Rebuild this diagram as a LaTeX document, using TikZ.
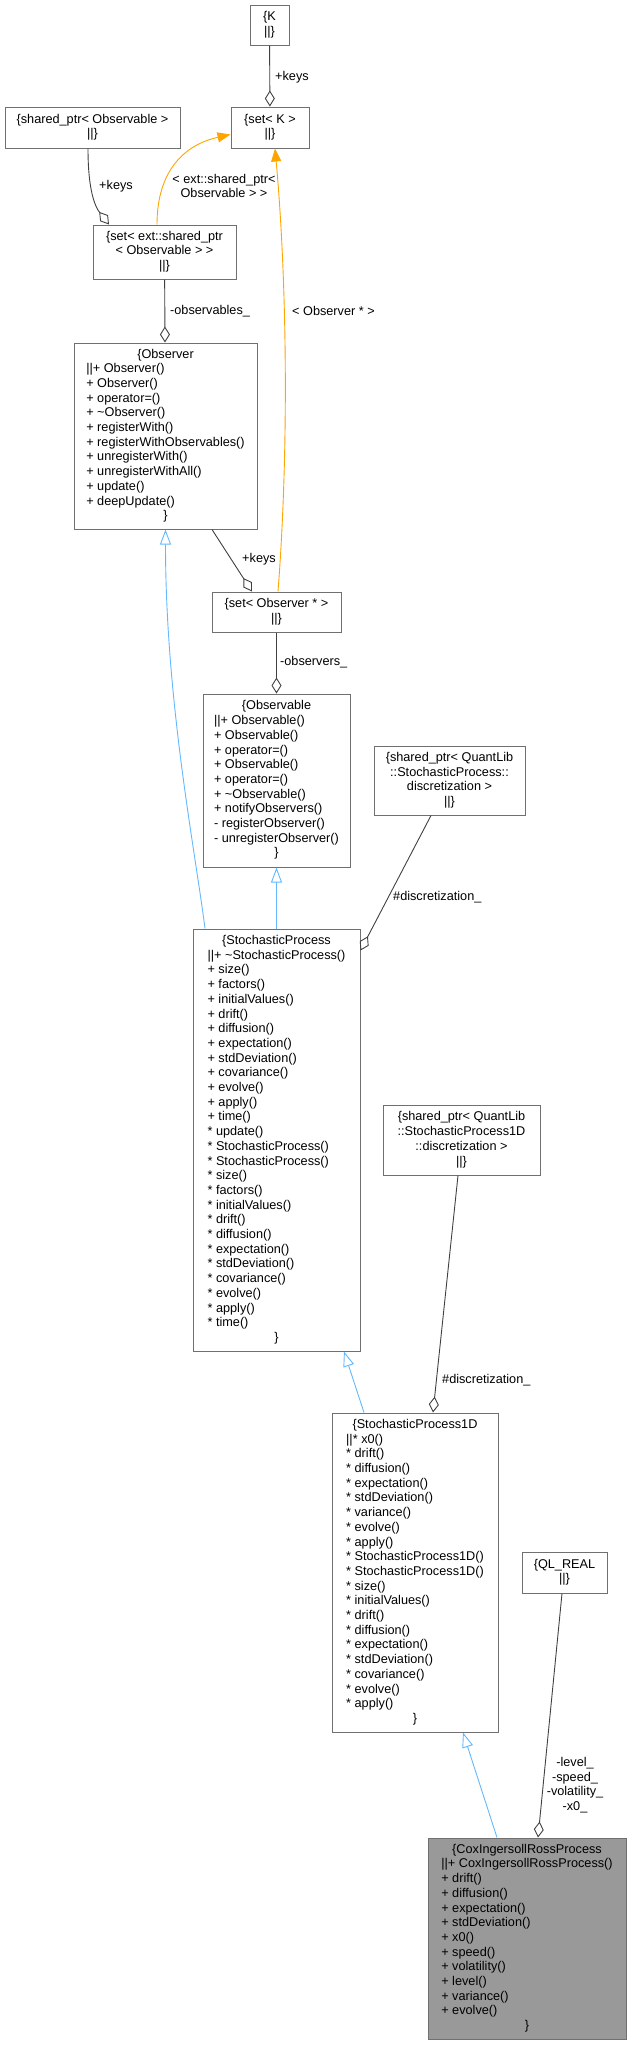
\documentclass[tikz,border=0pt]{standalone}
\usepackage{fontspec}
\setmainfont{Liberation Sans}
\usetikzlibrary{arrows.meta}
\definecolor{bordergray}{HTML}{707070}
\definecolor{edgegray}{HTML}{404040}
\definecolor{inhblue}{HTML}{63B8FF}
\definecolor{tmplorange}{HTML}{FFA500}
\definecolor{cirfill}{HTML}{999999}
\newcommand\dfont{\fontsize{12.7pt}{14.7pt}\selectfont}
\newcommand\ctr[1]{\multicolumn{1}{@{}c@{}}{#1}}
\begin{document}
\begin{tikzpicture}[x=1pt,y=-1pt,
 cls/.style={draw=bordergray, line width=1pt, fill=white, inner sep=0pt, font=\dfont},
 lbl/.style={inner sep=0pt, font=\dfont, align=center},
 assoc/.style={draw=edgegray, line width=0.9pt, -{Diamond[open,length=16pt,width=10pt]}},
 inh/.style={draw=inhblue, line width=0.9pt, -{Triangle[open,length=15pt,width=11pt]}},
 tmpl/.style={draw=tmplorange, line width=0.9pt, -{Triangle[length=13pt,width=10pt]}},
]
\useasboundingbox (0,0) rectangle (631,2045);

% ---- class nodes ----
\node[cls, minimum width=39pt, minimum height=40pt] (K) at (269.5,25)
 {\begin{tabular}{@{}c@{}}\{K\\||\}\end{tabular}};
\node[cls, minimum width=78pt, minimum height=41pt] (setK) at (270,127.5)
 {\begin{tabular}{@{}c@{}}\{set< K >\\||\}\end{tabular}};
\node[cls, minimum width=175pt, minimum height=41pt] (spObs) at (92.5,127.5)
 {\begin{tabular}{@{}c@{}}\{shared\_ptr< Observable >\\||\}\end{tabular}};
\node[cls, minimum width=143pt, minimum height=54pt] (setExt) at (164.5,252)
 {\begin{tabular}{@{}c@{}}\{set< ext::shared\_ptr\\< Observable > >\\||\}\end{tabular}};
\node[cls, minimum width=183pt, minimum height=186pt] (Observer) at (165.5,436)
 {\begin{tabular}{@{}l@{}}\ctr{\{Observer}\\
 ||+ Observer()\\
 + Observer()\\
 + operator=()\\
 + \textasciitilde Observer()\\
 + registerWith()\\
 + registerWithObservables()\\
 + unregisterWith()\\
 + unregisterWithAll()\\
 + update()\\
 + deepUpdate()\\
 \ctr{\}}\end{tabular}};
\node[cls, minimum width=129pt, minimum height=40pt] (setObsPtr) at (276.5,612)
 {\begin{tabular}{@{}c@{}}\{set< Observer {*} >\\||\}\end{tabular}};
\node[cls, minimum width=147pt, minimum height=173pt] (Observable) at (276.5,780.5)
 {\begin{tabular}{@{}l@{}}\ctr{\{Observable}\\
 ||+ Observable()\\
 + Observable()\\
 + operator=()\\
 + Observable()\\
 + operator=()\\
 + \textasciitilde Observable()\\
 + notifyObservers()\\
 - registerObserver()\\
 - unregisterObserver()\\
 \ctr{\}}\end{tabular}};
\node[cls, minimum width=151pt, minimum height=69pt] (spSPdisc) at (449.5,780.5)
 {\begin{tabular}{@{}c@{}}\{shared\_ptr< QuantLib\\::StochasticProcess::\\discretization >\\||\}\end{tabular}};
\node[cls, minimum width=167pt, minimum height=422pt] (SP) at (276.5,1140)
 {\begin{tabular}{@{}l@{}}\ctr{\{StochasticProcess}\\
 ||+ \textasciitilde StochasticProcess()\\
 + size()\\
 + factors()\\
 + initialValues()\\
 + drift()\\
 + diffusion()\\
 + expectation()\\
 + stdDeviation()\\
 + covariance()\\
 + evolve()\\
 + apply()\\
 + time()\\
 {*} update()\\
 {*} StochasticProcess()\\
 {*} StochasticProcess()\\
 {*} size()\\
 {*} factors()\\
 {*} initialValues()\\
 {*} drift()\\
 {*} diffusion()\\
 {*} expectation()\\
 {*} stdDeviation()\\
 {*} covariance()\\
 {*} evolve()\\
 {*} apply()\\
 {*} time()\\
 \ctr{\}}\end{tabular}};
\node[cls, minimum width=157pt, minimum height=70pt] (spSP1Ddisc) at (461.5,1140)
 {\begin{tabular}{@{}c@{}}\{shared\_ptr< QuantLib\\::StochasticProcess1D\\::discretization >\\||\}\end{tabular}};
\node[cls, minimum width=166pt, minimum height=319pt] (SP1D) at (415,1572.5)
 {\begin{tabular}{@{}l@{}}\ctr{\{StochasticProcess1D}\\
 ||{*} x0()\\
 {*} drift()\\
 {*} diffusion()\\
 {*} expectation()\\
 {*} stdDeviation()\\
 {*} variance()\\
 {*} evolve()\\
 {*} apply()\\
 {*} StochasticProcess1D()\\
 {*} StochasticProcess1D()\\
 {*} size()\\
 {*} initialValues()\\
 {*} drift()\\
 {*} diffusion()\\
 {*} expectation()\\
 {*} stdDeviation()\\
 {*} covariance()\\
 {*} evolve()\\
 {*} apply()\\
 \ctr{\}}\end{tabular}};
\node[cls, minimum width=85pt, minimum height=41pt] (QLREAL) at (564.5,1572.5)
 {\begin{tabular}{@{}c@{}}\{QL\_REAL\\||\}\end{tabular}};
\node[cls, fill=cirfill, minimum width=198pt, minimum height=201pt] (CIR) at (527,1938.5)
 {\begin{tabular}{@{}l@{}}\ctr{\{CoxIngersollRossProcess}\\
 ||+ CoxIngersollRossProcess()\\
 + drift()\\
 + diffusion()\\
 + expectation()\\
 + stdDeviation()\\
 + x0()\\
 + speed()\\
 + volatility()\\
 + level()\\
 + variance()\\
 + evolve()\\
 \ctr{\}}\end{tabular}};

% ---- connectors ----
\draw[assoc] (K) -- (setK);
\draw[assoc] ([xshift=-4.5pt]spObs.south) .. controls +(0,42) and +(-14,-18) .. ([xshift=-55.5pt]setExt.north);
\draw[tmpl] ([xshift=-7.5pt]setExt.north) .. controls +(0,-55) and +(-45,10) .. ([yshift=-7pt]setK.west);
\draw[tmpl] ([xshift=1.5pt]setObsPtr.north) .. controls +(11,-142) and +(12,132) .. ([xshift=5pt]setK.south);
\draw[assoc] (setExt) -- (Observer);
\draw[assoc] ([xshift=46.5pt]Observer.south) -- ([xshift=-24.5pt]setObsPtr.north);
\draw[assoc] (setObsPtr) -- (Observable);
\draw[inh] (SP) -- (Observable);
\draw[inh] ([xshift=-71.5pt]SP.north) .. controls +(-10,-79) and +(0,171) .. (Observer.south);
\draw[assoc] ([xshift=-18.5pt]spSPdisc.south) -- ([yshift=-22pt]SP.north east);
\draw[inh] ([xshift=-51pt]SP1D.north) -- ([xshift=67.5pt]SP.south);
\draw[assoc] ([xshift=-3.5pt]spSP1Ddisc.south) -- ([xshift=18pt]SP1D.north);
\draw[inh] ([xshift=-30pt]CIR.north) -- ([xshift=48pt]SP1D.south);
\draw[assoc] ([xshift=-2.5pt]QLREAL.south) -- ([xshift=11pt]CIR.north);

% ---- labels ----
\node[lbl, anchor=west] (lk1) at (275,77) {+keys};
\node[lbl] (lk2) at (116,186) {+keys};
\node[lbl] (lt1) at (224,186) {< ext::shared\_ptr<\\Observable > >};
\node[lbl, anchor=west] (lo1) at (170,311) {-observables\_};
\node[lbl, anchor=west] (lt2) at (292,311) {< Observer {*} >};
\node[lbl] (lk3) at (259,559) {+keys};
\node[lbl, anchor=west] (lo2) at (280,662) {-observers\_};
\node[lbl, anchor=west] (ld1) at (393,897) {\#discretization\_};
\node[lbl, anchor=west] (ld2) at (442,1380) {\#discretization\_};
\node[lbl] (lc) at (575,1785) {-level\_\\-speed\_\\-volatility\_\\-x0\_};
\end{tikzpicture}
\end{document}
